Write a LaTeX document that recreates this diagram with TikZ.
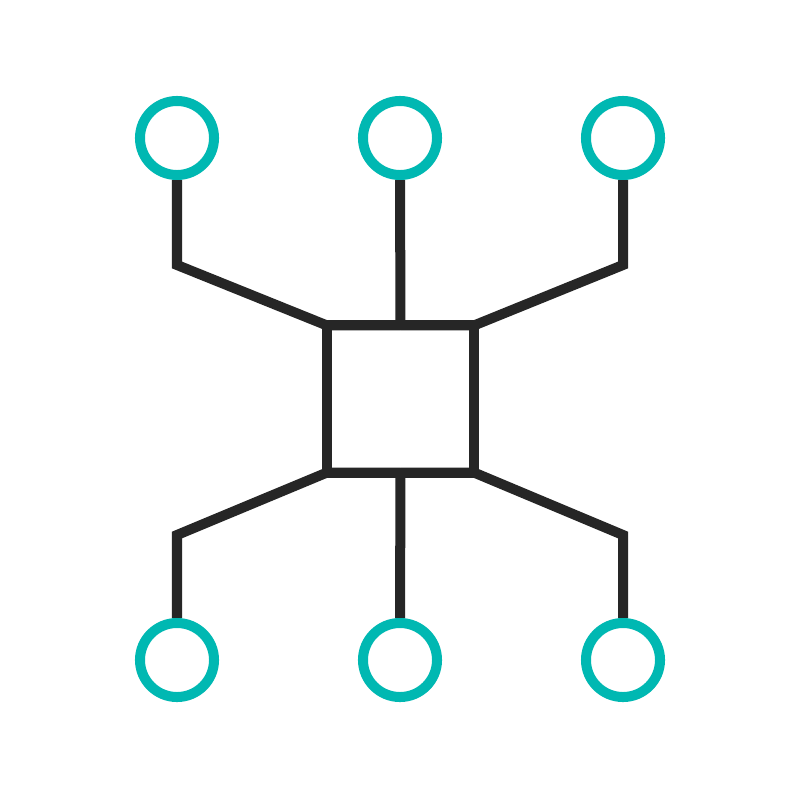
\documentclass[tikz,border=0pt]{standalone}
\definecolor{ink}{HTML}{262626}
\definecolor{teal}{HTML}{00B8B2}
\begin{document}
\begin{tikzpicture}[x=0.01cm,y=-0.01cm,
  leaf/.style={circle,draw=teal,line width=0.1cm,minimum size=0.74cm,inner sep=0pt},
  hub/.style={rectangle,draw=ink,line width=0.1cm,minimum size=1.47cm,inner sep=0pt,outer sep=0pt},
  link/.style={draw=ink,line width=0.1cm,line join=miter}]
\useasboundingbox[fill=white] (0,0) rectangle (800,800);
\node[hub] (h) at (400.5,399) {};
\path (177,265) coordinate (ka) (623,265) coordinate (kb) (177,535) coordinate (kc) (623,535) coordinate (kd);
\node[leaf] (t1) at (177,138) {};
\node[leaf] (t2) at (400,138) {};
\node[leaf] (t3) at (623,138) {};
\node[leaf] (b1) at (177,660) {};
\node[leaf] (b2) at (400,660) {};
\node[leaf] (b3) at (623,660) {};
\draw[link] (t1.south) -- (ka) -- (h.north west) -- (h.north);
\draw[link] (t2.south) -- (h.north);
\draw[link] (t3.south) -- (kb) -- (h.north east) -- (h.north);
\draw[link] (b1.north) -- (kc) -- (h.south west) -- (h.south);
\draw[link] (b2.north) -- (h.south);
\draw[link] (b3.north) -- (kd) -- (h.south east) -- (h.south);
\end{tikzpicture}
\end{document}
